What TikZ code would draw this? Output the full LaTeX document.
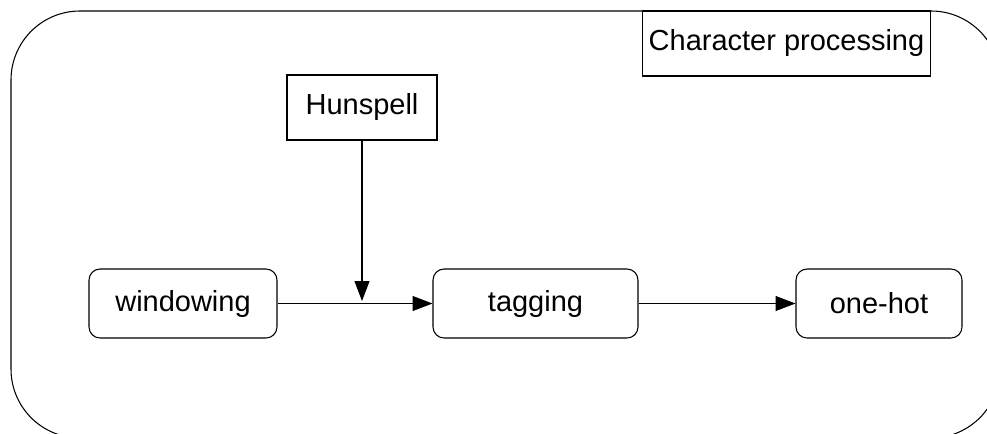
\documentclass[tikz,border=0pt]{standalone}
\usepackage{fontspec}
\setmainfont{Liberation Sans}
\usetikzlibrary{arrows.meta,positioning}

\begin{document}
\begin{tikzpicture}[x=0.02cm,y=-0.02cm,
          every node/.style={font=\fontsize{16.5}{19}\selectfont},
          line width=0.6pt,
          stage/.style={draw,rounded corners=0.22cm,
                        minimum height=1.38cm,align=center},
          plain/.style={draw,minimum height=1.3cm,align=center},
          flow/.style={-{Triangle[length=0.4cm,width=0.3cm]}},
      ]
        \useasboundingbox (0,0) rectangle (987,433);

        % outer frame, cut by the picture edge
        \begin{scope}
          \clip (0,0) rectangle (987,433);
          \draw[rounded corners=1.38cm] (11,11) rectangle (1000,438);
        \end{scope}

        \node[plain,minimum width=5.7cm] (title) at (786.5,43.5) {Character processing};
        \node[plain,minimum width=3cm] (hun) at (362,107.5) {Hunspell};

        \node[stage,minimum width=3.76cm] (win) at (183,303.5) {windowing};
        \node[stage,minimum width=4.1cm] (tag) at (535.5,303.5) {tagging};
        \node[stage,minimum width=3.32cm] (hot) at (879,303.5) {one-hot};

        \coordinate (join) at (362,301);

        \draw[flow] (win) -- (tag);
        \draw[flow] (hun) -- (join);
        \draw[flow] (tag) -- (hot);
      \end{tikzpicture}
\end{document}
